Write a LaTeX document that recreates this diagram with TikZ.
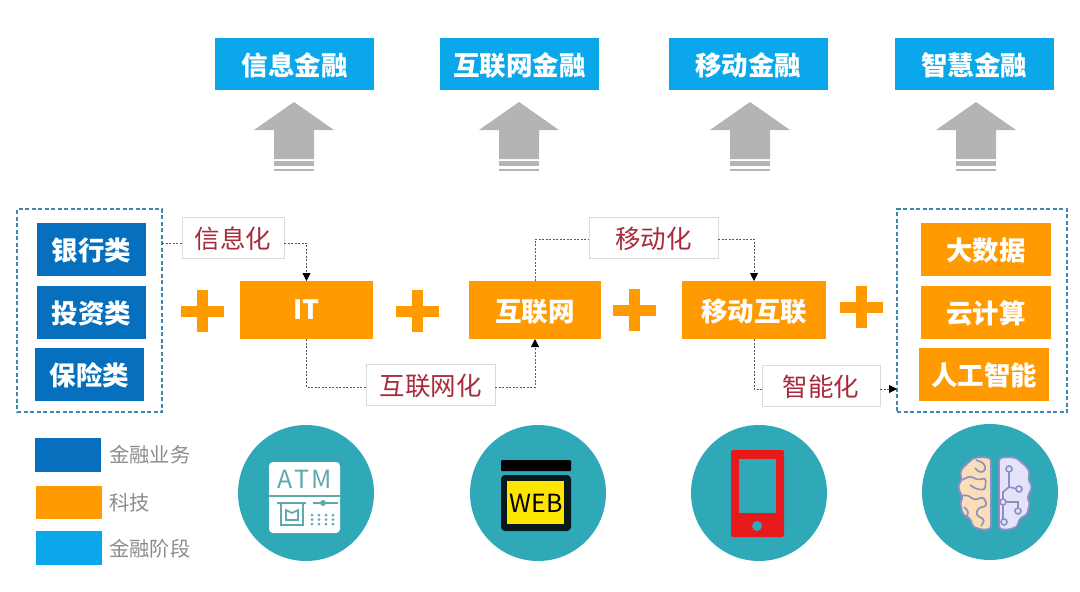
\documentclass[tikz,border=0pt]{standalone}
\usepackage{fontspec}
\setmainfont{Noto Sans CJK SC}
\usetikzlibrary{arrows.meta}

\definecolor{stageblue}{HTML}{0AA8EA}
\definecolor{bizblue}{HTML}{0670BE}
\definecolor{techorange}{HTML}{FF9A00}
\definecolor{tealdisc}{HTML}{2FA9B8}
\definecolor{arrowgray}{HTML}{B4B4B4}
\definecolor{tagred}{HTML}{A82A3C}
\definecolor{tagline}{HTML}{DADADA}
\definecolor{groupline}{HTML}{3E86B0}
\definecolor{legendgray}{HTML}{8C8C8C}
\definecolor{atmteal}{HTML}{5FA9AE}
\definecolor{brainline}{HTML}{8890C4}
\definecolor{brainleft}{HTML}{FBDDB8}
\definecolor{brainright}{HTML}{E6E2FA}
\definecolor{phonered}{HTML}{E61A1A}
\definecolor{webyellow}{HTML}{FFE600}

\tikzset{
	bigarrow/.pic={
		\fill[arrowgray] (0,-57) -- (40,-29) -- (20,-29) -- (20,0) -- (-20,0) -- (-20,-29) -- (-40,-29) -- cycle;
		\fill[arrowgray] (-20,2) rectangle (20,7);
		\fill[arrowgray] (-20,10) rectangle (20,12);
	},
	plussign/.pic={
		\fill[techorange] (-21.5,-5.5) rectangle (21.5,5.5);
		\fill[techorange] (-5.5,-21) rectangle (5.5,21);
	}
}

\begin{document}
\begin{tikzpicture}[x=1pt,y=-1pt,
	box/.style={inner sep=0pt,outer sep=0pt,text=white,text height=24pt,text depth=2pt,font=\fontsize{26.5}{26.5}\selectfont\bfseries},
	stagebox/.style={box,fill=stageblue,minimum width=159pt,minimum height=52pt},
	bizbox/.style={box,fill=bizblue,minimum width=109pt,minimum height=53pt},
	techbox/.style={box,fill=techorange,minimum width=130pt,minimum height=53pt},
	mainbox/.style={box,fill=techorange,minimum height=58pt},
	tagbox/.style={draw=tagline,fill=white,inner sep=0pt,outer sep=0pt,text=tagred,text height=23pt,text depth=2pt,minimum height=41pt,font=\fontsize{25.5}{25.5}\selectfont},
	groupbox/.style={draw=groupline,line width=1.2pt,dash pattern=on 4pt off 2.5pt,inner sep=0pt,outer sep=0pt,minimum height=203pt},
	swatch/.style={inner sep=0pt,outer sep=0pt,minimum width=66pt,minimum height=33.5pt},
	legendtext/.style={inner sep=0pt,text=legendgray,anchor=west,font=\fontsize{20.3}{20.3}\selectfont},
	disc/.style={circle,fill=tealdisc,inner sep=0pt,outer sep=0pt,minimum size=136pt},
	link/.style={draw=black!65,line width=0.8pt,dash pattern=on 2pt off 1.5pt},
	linkarrow/.style={link,-{Triangle[length=8pt,width=8pt,black]}}]
	
	\useasboundingbox (0,0) rectangle (1080,592);
	
	% top row
	\node[stagebox] (Info) at (294.5,64) {信息金融};
	\node[stagebox,node distance=225pt,right of=Info] (Web) {互联网金融};
	\node[stagebox,node distance=228.5pt,right of=Web] (Mobile) {移动金融};
	\node[stagebox,node distance=226pt,right of=Mobile] (Smart) {智慧金融};
	
	\pic at (294,159) {bigarrow};
	\pic at (519,159) {bigarrow};
	\pic at (750,159) {bigarrow};
	\pic at (976,159) {bigarrow};
	
	% left and right groups
	\node[groupbox,minimum width=145pt] (BizGroup) at (89.5,310.5) {};
	\node[groupbox,minimum width=170pt] (TechGroup) at (982,310.5) {};
	
	\node[bizbox] (Bank) at (91.5,249.5) {银行类};
	\node[bizbox,node distance=63pt,below of=Bank] (Invest) {投资类};
	\node[bizbox,node distance=62pt,below of=Invest,xshift=-2pt] (Insure) {保险类};
	
	\node[techbox] (Data) at (986,249.5) {大数据};
	\node[techbox,node distance=63pt,below of=Data] (Cloud) {云计算};
	\node[techbox,node distance=62pt,below of=Cloud,xshift=-2pt] (AI) {人工智能};
	
	% middle row
	\node[mainbox,minimum width=133pt,text height=18pt,text depth=0pt] (IT) at (306.5,310) {IT};
	\node[mainbox,minimum width=132pt,node distance=228.5pt,right of=IT] (Net) {互联网};
	\node[mainbox,minimum width=144pt,node distance=219pt,right of=Net] (MobNet) {移动互联};
	
	\pic at (202,311) {plussign};
	\pic at (417,311) {plussign};
	\pic at (634,310) {plussign};
	\pic at (861,307) {plussign};
	
	% tags
	\node[tagbox,minimum width=102pt] (TagInfo) at (233,237.5) {信息化};
	\node[tagbox,minimum width=129pt] (TagMob) at (653.5,237.5) {移动化};
	\node[tagbox,minimum width=129pt] (TagNet) at (430.5,384.5) {互联网化};
	\node[tagbox,minimum width=118pt] (TagAI) at (821,386) {智能化};
	
	\coordinate (InfoIn) at ([yshift=-5.5pt]TagInfo.west);
	\coordinate (InfoOut) at ([yshift=-5.5pt]TagInfo.east);
	\coordinate (MobIn) at ([yshift=-1.5pt]TagMob.west);
	\coordinate (MobOut) at ([yshift=-1.5pt]TagMob.east);
	\coordinate (NetIn) at ([yshift=-2.5pt]TagNet.west);
	\coordinate (NetOut) at ([yshift=-2.5pt]TagNet.east);
	\coordinate (AIIn) at ([yshift=-3pt]TagAI.west);
	\coordinate (AIOut) at ([yshift=-3pt]TagAI.east);
	
	\draw[link] (BizGroup.east |- InfoIn) -- (InfoIn);
	\draw[linkarrow] (InfoOut) -| (IT.north);
	\draw[link] (IT.south) |- (NetIn);
	\draw[linkarrow] (NetOut) -| (Net.south);
	\draw[link] (Net.north) |- (MobIn);
	\draw[linkarrow] (MobOut) -| (MobNet.north);
	\draw[link] (MobNet.south) |- (AIIn);
	\draw[linkarrow] (AIOut) -- (TechGroup.west |- AIOut);
	
	% legend
	\node[swatch,fill=bizblue] (KeyBiz) at (68,455) {};
	\node[swatch,fill=techorange,node distance=47.5pt,below of=KeyBiz,xshift=1pt] (KeyTech) {};
	\node[swatch,fill=stageblue,node distance=45.5pt,below of=KeyTech] (KeyStage) {};
	\node[legendtext] (TextBiz) at (109,455) {金融业务};
	\node[legendtext] (TextTech) at (109,503) {科技};
	\node[legendtext] (TextStage) at (109,549) {金融阶段};
	
	% discs
	\node[disc] (DiscATM) at (306,493) {};
	\node[disc] (DiscWeb) at (538,493) {};
	\node[disc] (DiscPhone) at (759,493) {};
	\node[disc] (DiscBrain) at (990,492) {};
	
	% ATM icon
	\fill[white,rounded corners=4pt] (269,462) rectangle (340,533);
	\node[inner sep=0pt,text=atmteal,font=\fontsize{25}{25}\selectfont] (TextATM) at (304.5,479) {A\kern2pt T\kern2pt M};
	\draw[atmteal,line width=1.8pt] (269,496) -- (340,496);
	\draw[atmteal,line width=1.8pt] (277,503) -- (306,503);
	\draw[atmteal,line width=1.6pt] (281,504) -- (281,525) -- (303,525) -- (303,504);
	\draw[atmteal,line width=1.6pt] (286,510) -- (286,520) -- (298,520) -- (298,510) -- (292,513) -- cycle;
	\draw[atmteal,line width=1.6pt] (313,503) -- (338,503);
	\fill[atmteal] (323,503) circle (3pt);
	\foreach \dotx in {312,319,326,333}
		\foreach \doty in {515,519.5,524}
			\fill[atmteal] (\dotx,\doty) circle (1.5pt);
	
	% web icon
	\fill[black,rounded corners=1pt] (501,460) rectangle (571,471);
	\fill[black!85!tealdisc,rounded corners=4pt] (501,475) rectangle (571,531);
	\fill[webyellow] (507,481) rectangle (564,524);
	\node[inner sep=0pt,text=black,font=\fontsize{25}{25}\selectfont] (TextWeb) at (536,503) {WEB};
	
	% phone icon
	\fill[phonered,rounded corners=2pt] (731,450) rectangle (784,537);
	\fill[tealdisc] (739,459) rectangle (776,513);
	\fill[tealdisc] (757,526) circle (5pt);
	
	% brain icon
	\draw[brainline,fill=brainleft,line width=1.8pt,rounded corners=3pt] (991,458) -- (982,457) -- (973,458) -- (968,463) -- (963,467) -- (960,473) -- (962,480) -- (958,485) -- (960,493) -- (963,497) -- (960,503) -- (963,515) -- (970,518) -- (973,527) -- (983,530) -- (991,529) -- cycle;
	\draw[brainline,fill=brainright,line width=1.8pt,rounded corners=3pt] (999,458) -- (1008,457) -- (1017,458) -- (1022,463) -- (1027,467) -- (1030,473) -- (1028,480) -- (1032,485) -- (1030,493) -- (1027,497) -- (1030,503) -- (1027,515) -- (1020,518) -- (1017,527) -- (1007,530) -- (999,529) -- cycle;
	\draw[brainline,line width=1.6pt,rounded corners=3pt] (976,460) -- (984,463) -- (986,470) -- (980,473) -- (975,468);
	\draw[brainline,line width=1.6pt,rounded corners=3pt] (962,480) -- (970,476) -- (978,480) -- (986,478) -- (985,490) -- (976,489) -- (970,485);
	\draw[brainline,line width=1.6pt,rounded corners=3pt] (960,496) -- (968,495) -- (974,500) -- (984,497) -- (987,506) -- (978,508) -- (976,515) -- (985,520) -- (981,526);
	\draw[brainline,line width=1.6pt,rounded corners=3pt] (964,507) -- (969,512) -- (966,518);
	\draw[brainline,line width=1.6pt] (1009,469) -- (1009,487) -- (1003,492) -- (1003,522);
	\draw[brainline,line width=1.6pt] (1009,487) -- (1018,489);
	\draw[brainline,line width=1.6pt] (1003,502) -- (1018,502) -- (1018,511);
	\draw[brainline,fill=brainright,line width=1.6pt] (1009,469) circle (3pt);
	\draw[brainline,fill=brainright,line width=1.6pt] (1019,489) circle (3pt);
	\draw[brainline,fill=brainright,line width=1.6pt] (1003,502) circle (3pt);
	\draw[brainline,fill=brainright,line width=1.6pt] (1018,511) circle (3pt);
	\draw[brainline,fill=brainright,line width=1.6pt] (1004,522) circle (3pt);
	
\end{tikzpicture}
\end{document}
